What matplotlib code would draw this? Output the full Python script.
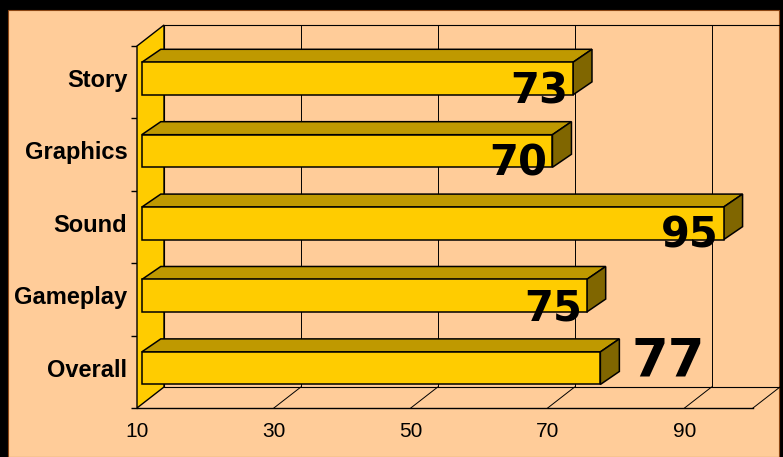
import matplotlib
matplotlib.use("Agg")
import matplotlib.pyplot as plt
from matplotlib.patches import Polygon, Rectangle
from matplotlib.transforms import ScaledTranslation

# donnees
categories = ["Overall", "Gameplay", "Sound", "Graphics", "Story"]
scores = [77, 75, 95, 70, 73]
xticks = [10, 30, 50, 70, 90]
xmin, xmax = 10, 100

# couleurs
peach = "#FFCC99"
yellow = "#FFCC00"
top_col = "#BF9900"
side_col = "#806600"

W, H = 783, 457
fig = plt.figure(figsize=(W / 100, H / 100), dpi=100, facecolor="black")
fig.patches.append(Rectangle((8 / W, 0), 771 / W, 447 / H, transform=fig.transFigure,
                             facecolor=peach, edgecolor="#8B4513", lw=0.8, zorder=-1))

ax = fig.add_axes([137 / W, 49 / H, 616 / W, 362 / H])
ax.set_xlim(xmin, xmax)
ax.set_ylim(-0.5, len(categories) - 0.5)
ax.patch.set_visible(False)
for s in ax.spines.values():
    s.set_visible(False)

# profondeur du decor (unites de donnees)
px_x = 616 / (xmax - xmin)
px_y = 362 / len(categories)
Dx, Dy = 27 / px_x, 21 / px_y
ytop = len(categories) - 0.5
ybot = -0.5

# mur gauche
ax.add_patch(Polygon([(xmin, ybot), (xmin + Dx, ybot + Dy), (xmin + Dx, ytop + Dy), (xmin, ytop)],
                     closed=True, facecolor=yellow, edgecolor="black", lw=1.0, clip_on=False, zorder=2))
# mur du fond
ax.add_patch(Polygon([(xmin + Dx, ybot + Dy), (xmax + Dx, ybot + Dy), (xmax + Dx, ytop + Dy), (xmin + Dx, ytop + Dy)],
                     closed=True, facecolor="none", edgecolor="black", lw=0.8, clip_on=False, zorder=1))
# grille + sol
for x in xticks[1:] + [xmax]:
    if x != xmax:
        ax.plot([x + Dx, x + Dx], [ybot + Dy, ytop + Dy], color="black", lw=0.7, clip_on=False, zorder=1)
    ax.plot([x, x + Dx], [ybot, ybot + Dy], color="black", lw=0.7, clip_on=False, zorder=1)
ax.plot([xmin, xmax], [ybot, ybot], color="black", lw=1.0, clip_on=False, zorder=3)

# barres 3D
fx = 0.7
bx, by = 19 / px_x, 13 / px_y
h = 0.45
for i, (cat, v) in enumerate(zip(categories, scores)):
    yc = i + 0.05
    b, t = yc - h / 2, yc + h / 2
    x0, x1 = xmin + fx, v + fx
    ax.add_patch(Polygon([(x0, t), (x1, t), (x1 + bx, t + by), (x0 + bx, t + by)], closed=True,
                         facecolor=top_col, edgecolor="black", lw=1.1, clip_on=False, zorder=4))
    ax.add_patch(Polygon([(x1, b), (x1, t), (x1 + bx, t + by), (x1 + bx, b + by)], closed=True,
                         facecolor=side_col, edgecolor="black", lw=1.1, clip_on=False, zorder=4))
    ax.barh(yc, v - xmin, left=x0, height=h, color=yellow, edgecolor="black", lw=1.1, zorder=5, clip_on=False)
    if cat == "Overall":
        ax.text(v + 5.3, i - 0.07, str(v), ha="left", va="baseline", fontsize=38,
                fontweight="bold", family="DejaVu Sans", zorder=6)
    else:
        ax.text(v, i - 0.29, str(v), ha="right", va="baseline", fontsize=30,
                fontweight="bold", family="DejaVu Sans", zorder=6)

# axes
ax.set_xticks(xticks)
ax.set_xticklabels([str(x) for x in xticks], family="Liberation Sans", fontsize=15)
ax.tick_params(axis="x", length=0, pad=10)
ax.set_yticks([k - 0.5 for k in range(len(categories) + 1)])
ax.set_yticklabels([])
ax.tick_params(axis="y", which="major", length=4.5, width=1.0, direction="out")
ax.set_yticks(range(len(categories)), minor=True)
ax.set_yticklabels(categories, minor=True, family="Liberation Sans", fontweight="bold", fontsize=17)
ax.tick_params(axis="y", which="minor", length=0, pad=7)
shift = ScaledTranslation(0, 3 / 72, fig.dpi_scale_trans)
for lab in ax.get_yticklabels(minor=True):
    lab.set_transform(lab.get_transform() + shift)

fig.savefig("out.png", dpi=100, facecolor="black")
